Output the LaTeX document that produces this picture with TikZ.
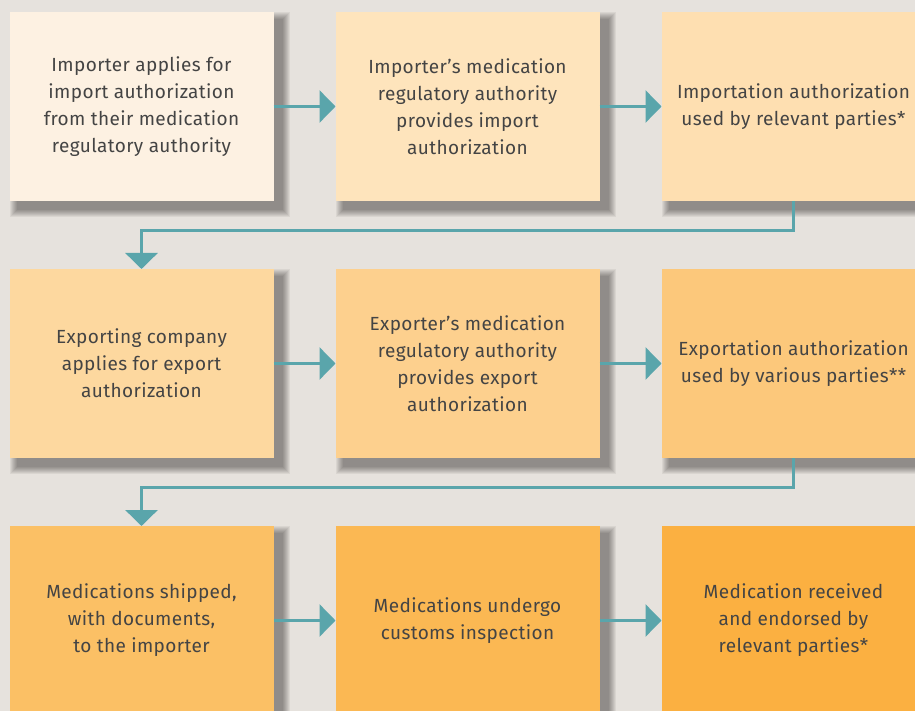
\documentclass[tikz,border=0pt]{standalone}
\usepackage{fontspec}
\setmainfont{Fira Sans}[LetterSpace=2]
\usetikzlibrary{positioning}
\usetikzlibrary{arrows.meta}
\usetikzlibrary{backgrounds}

\definecolor{paper}{HTML}{E6E2DD}
\definecolor{flow}{HTML}{5AA5AB}
\definecolor{ink}{HTML}{444444}
\definecolor{stepA}{HTML}{FDF1E2}
\definecolor{stepB}{HTML}{FEE4BC}
\definecolor{stepC}{HTML}{FEDFB1}
\definecolor{stepD}{HTML}{FDD89F}
\definecolor{stepE}{HTML}{FDD08E}
\definecolor{stepF}{HTML}{FCC87B}
\definecolor{stepG}{HTML}{FBC065}
\definecolor{stepH}{HTML}{FBB853}
\definecolor{stepI}{HTML}{FBB041}

\begin{document}
\begin{tikzpicture}[x=1pt, y=1pt,
    font=\fontsize{19}{27}\selectfont,
    node distance=68pt and 62pt,
    box/.style={shape=rectangle,
      minimum width=264pt,
      minimum height=189pt,
      outer sep=0pt,
      align=center,
      text=ink},
    link/.style={draw=flow, line width=3pt,
      -{Triangle[length=16pt,width=32pt]}}]

    \useasboundingbox (0,0) rectangle (915,-711);

    % row 1: import
    \node[name=imp1, box, fill=stepA] at (141.5,-106.5)
      {Importer applies for\\import authorization\\from their medication\\regulatory authority};
    \node[name=imp2, box, fill=stepB, right=of imp1]
      {Importer's medication\\regulatory authority\\provides import\\authorization};
    \node[name=imp3, box, fill=stepC, right=of imp2]
      {Importation authorization\\used by relevant parties*};

    % row 2: export
    \node[name=exp1, box, fill=stepD, below=of imp1]
      {Exporting company\\applies for export\\authorization};
    \node[name=exp2, box, fill=stepE, right=of exp1]
      {Exporter's medication\\regulatory authority\\provides export\\authorization};
    \node[name=exp3, box, fill=stepF, right=of exp2]
      {Exportation authorization\\used by various parties**};

    % row 3: shipping
    \node[name=ship1, box, fill=stepG, below=of exp1]
      {Medications shipped,\\with documents,\\to the importer};
    \node[name=ship2, box, fill=stepH, right=of ship1]
      {Medications undergo\\customs inspection};
    \node[name=ship3, box, fill=stepI, right=of ship2]
      {Medication received\\and endorsed by\\relevant parties*};

    \path[link] (imp1) -- (imp2);
    \path[link] (imp2) -- (imp3);
    \path[link] (imp3.south) -- ++(0,-30) -| (exp1.north);
    \path[link] (exp1) -- (exp2);
    \path[link] (exp2) -- (exp3);
    \path[link] (exp3.south) -- ++(0,-29) -| (ship1.north);
    \path[link] (ship1) -- (ship2);
    \path[link] (ship2) -- (ship3);

    % paper and soft shadows
    \begin{pgfonlayer}{background}
      \fill[paper] (0,0) rectangle (915,-711);
      \foreach \n in {imp1,imp2,imp3,exp1,exp2,exp3,ship1,ship2,ship3}
        \foreach \r in {1,...,8}
          \fill[black, opacity=0.055]
            ([shift={(8-\r,-8+\r)}]\n.north west) rectangle
            ([shift={(8+\r,-8-\r)}]\n.south east);
    \end{pgfonlayer}
  \end{tikzpicture}
\end{document}
